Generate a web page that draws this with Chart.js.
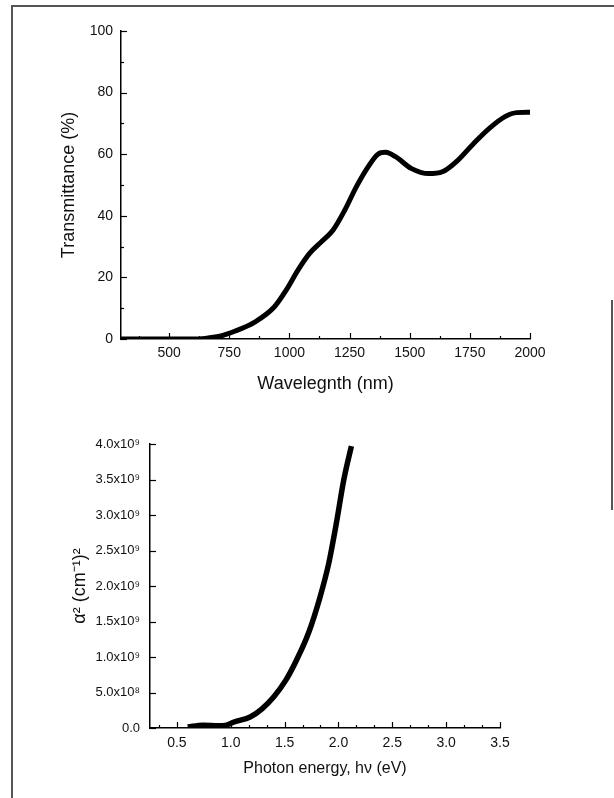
<!DOCTYPE html>
<html>
<head>
<meta charset="utf-8">
<script src="https://cdn.jsdelivr.net/npm/chart.js@4.4.1/dist/chart.umd.min.js"></script>
<style>
  body { margin: 0; background: #fff; }
  #page { position: relative; width: 614px; height: 798px; overflow: hidden; }
  canvas { position: absolute; left: 0; }
  .edge { position: absolute; background: #555; }
</style>
</head>
<body>
<div id="page">
  <div class="edge" style="left:11px;top:5px;width:2px;height:793px"></div>
  <div class="edge" style="left:11px;top:5px;width:603px;height:2px"></div>
  <div class="edge" style="left:611px;top:300px;width:2px;height:210px"></div>
  <canvas id="transmittance" width="614" height="400" style="top:0"></canvas>
  <canvas id="absorption" width="614" height="398" style="top:400px"></canvas>
</div>
<script>
// transmittance spectrum (top)
const wavelength = [300, 400, 500, 600, 650, 710, 775, 856, 937, 986, 1035, 1083, 1132, 1181, 1230, 1278, 1327, 1368, 1400, 1441, 1506, 1579, 1636, 1701, 1766, 1831, 1896, 1945, 2000];
const transmittance = [0, 0, 0, 0, 0.2, 0.9, 2.6, 5.5, 10.4, 15.8, 22.3, 27.7, 31.5, 35.3, 41.8, 49.4, 55.9, 60.0, 60.6, 59.2, 55.4, 53.7, 54.3, 58.1, 63.5, 68.4, 72.2, 73.5, 73.6];
const wlTicks = [500, 750, 1000, 1250, 1500, 1750, 2000];
const wlMinor = [375, 625, 875, 1125, 1375, 1625, 1875];
const transTicks = [0, 20, 40, 60, 80, 100];
const transMinor = [10, 30, 50, 70, 90];

// alpha^2 vs photon energy (bottom)
const photonEnergy = [0.6, 0.74, 0.89, 0.96, 1.03, 1.18, 1.29, 1.40, 1.51, 1.61, 1.72, 1.83, 1.91, 1.98, 2.05, 2.12];
const alphaSquared = [1.4e7, 4.0e7, 3.0e7, 4.0e7, 8.5e7, 1.55e8, 2.7e8, 4.4e8, 6.7e8, 9.55e8, 1.33e9, 1.85e9, 2.32e9, 2.88e9, 3.50e9, 3.97e9];
const energyTicks = [0.5, 1.0, 1.5, 2.0, 2.5, 3.0, 3.5];
const energyMinor = [0.333, 0.667, 0.833, 1.167, 1.333, 1.667, 1.833, 2.167, 2.333, 2.667, 2.833, 3.167, 3.333];
const alphaTicks = [0, 5e8, 1e9, 1.5e9, 2e9, 2.5e9, 3e9, 3.5e9, 4e9];
const alphaTickLabels = ["0.0", "5.0x10⁸", "1.0x10⁹", "1.5x10⁹", "2.0x10⁹", "2.5x10⁹", "3.0x10⁹", "3.5x10⁹", "4.0x10⁹"];

const FONT = "'Liberation Sans', Arial, sans-serif";

// ticks pointing into the plot, like the original figure
const inwardTicks = {
	id: "inwardTicks",
	afterDraw(chart, args, opts) {
		const { ctx, chartArea, scales } = chart;
		ctx.save();
		ctx.strokeStyle = "#000";
		ctx.lineWidth = 1.2;
		const mark = (vals, axis, len) => {
			vals.forEach((v) => {
				ctx.beginPath();
				if (axis === "x") {
					const px = Math.round(scales.x.getPixelForValue(v)) + 0.5;
					ctx.moveTo(px, chartArea.bottom);
					ctx.lineTo(px, chartArea.bottom - len);
				} else {
					const py = Math.round(scales.y.getPixelForValue(v)) + 0.5;
					ctx.moveTo(chartArea.left, py);
					ctx.lineTo(chartArea.left + len, py);
				}
				ctx.stroke();
			});
		};
		mark(opts.xMajor || [], "x", 6);
		mark(opts.xMinor || [], "x", 3);
		mark(opts.yMajor || [], "y", 6);
		mark(opts.yMinor || [], "y", 3);
		ctx.restore();
	},
};

const axisBase = (values, fontSize, pad, fmt) => ({
	type: "linear",
	grid: { drawOnChartArea: false, drawTicks: false },
	border: { display: true, color: "#000", width: 1.5 },
	afterBuildTicks: (scale) => {
		scale.ticks = values.map((v) => ({ value: v }));
	},
	ticks: {
		autoSkip: false,
		maxRotation: 0,
		padding: pad,
		color: "#111",
		font: { family: FONT, size: fontSize },
		callback: fmt,
	},
});

new Chart(document.getElementById("transmittance").getContext("2d"), {
	type: "line",
	data: {
		datasets: [
			{
				data: wavelength.map((w, i) => ({ x: w, y: transmittance[i] })),
				borderColor: "#000",
				borderWidth: 5,
				pointRadius: 0,
				cubicInterpolationMode: "monotone",
			},
		],
	},
	options: {
		responsive: false,
		animation: false,
		layout: { padding: { top: 31, right: 84, left: 0, bottom: 0 } },
		plugins: {
			legend: { display: false },
			tooltip: { enabled: false },
			inwardTicks: { xMajor: wlTicks, xMinor: wlMinor, yMajor: transTicks, yMinor: transMinor },
		},
		scales: {
			x: {
				...axisBase(wlTicks, 14, 6, (v) => String(v)),
				min: 300,
				max: 2000,
				afterFit: (scale) => { scale.height = 61; },
				title: {
					display: true,
					text: "Wavelegnth (nm)",
					color: "#111",
					font: { family: FONT, size: 18 },
					padding: { top: 0, bottom: 5 },
				},
			},
			y: {
				...axisBase(transTicks, 14, 8, (v) => String(v)),
				min: 0,
				max: 100,
				afterFit: (scale) => { scale.width = 121; },
				title: {
					display: true,
					text: "Transmittance (%)",
					color: "#111",
					font: { family: FONT, size: 18 },
					padding: { top: 58, bottom: 0 },
				},
			},
		},
	},
	plugins: [inwardTicks],
});

new Chart(document.getElementById("absorption").getContext("2d"), {
	type: "line",
	data: {
		datasets: [
			{
				data: photonEnergy.map((e, i) => ({ x: e, y: alphaSquared[i] })),
				borderColor: "#000",
				borderWidth: 5.5,
				pointRadius: 0,
				cubicInterpolationMode: "monotone",
			},
		],
	},
	options: {
		responsive: false,
		animation: false,
		layout: { padding: { top: 44, right: 114, left: 0, bottom: 0 } },
		plugins: {
			legend: { display: false },
			tooltip: { enabled: false },
			inwardTicks: { xMajor: energyTicks, xMinor: energyMinor, yMajor: alphaTicks },
		},
		scales: {
			x: {
				...axisBase(energyTicks, 14, 7, (v) => v.toFixed(1)),
				min: 0.25,
				max: 3.5,
				afterFit: (scale) => { scale.height = 70; },
				title: {
					display: true,
					text: "Photon energy, hν (eV)",
					color: "#111",
					font: { family: FONT, size: 16 },
					padding: { top: 0, bottom: 20 },
				},
			},
			y: {
				...axisBase(alphaTicks, 13, 10, (v) => alphaTickLabels[alphaTicks.indexOf(v)]),
				min: 0,
				max: 4e9,
				afterFit: (scale) => { scale.width = 150; },
				title: {
					display: true,
					text: "α² (cm⁻¹)²",
					color: "#111",
					font: { family: FONT, size: 18 },
					padding: { top: 69, bottom: 0 },
				},
			},
		},
	},
	plugins: [inwardTicks],
});
</script>
</body>
</html>
